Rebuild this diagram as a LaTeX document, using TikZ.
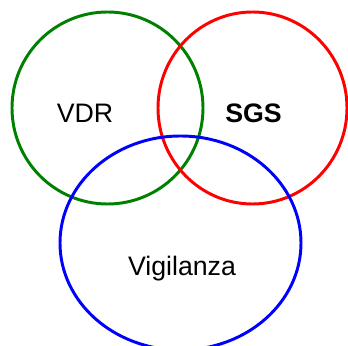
\documentclass[tikz,border=0pt]{standalone}
\usepackage{fontspec}
\setmainfont{Liberation Sans}
\usepackage{tikz}
\definecolor{VdrGreen}{HTML}{008000}
\definecolor{SgsRed}{HTML}{FF0000}
\definecolor{VigBlue}{HTML}{0000FF}

\tikzset{
  set/.style={line width=2.1pt},
  setlabel/.style={anchor=base,inner sep=0pt,font=\fontsize{19}{23}\selectfont}
}

\begin{document}
\begin{tikzpicture}[x=.025cm,y=-.025cm]
  \useasboundingbox (0,0) rectangle (348,346);
  % the three sets
  \draw[set,VdrGreen] (107.5,108) ellipse (95.5 and 96);
  \draw[set,SgsRed] (252.5,108) ellipse (94.5 and 96);
  \draw[set,VigBlue] (180.5,243) ellipse (120.5 and 107);
  % labels
  \node[setlabel] (vdr) at (85,123) {VDR};
  \node[setlabel,font=\fontsize{19}{23}\selectfont\bfseries] (sgs) at (253.5,123) {SGS};
  \node[setlabel] (vig) at (182,276) {Vigilanza};
\end{tikzpicture}
\end{document}
